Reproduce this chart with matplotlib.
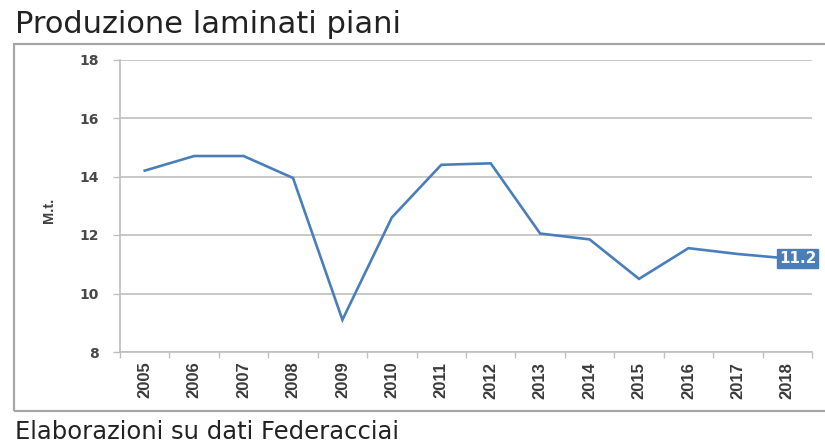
import matplotlib.pyplot as plt
from matplotlib.patches import Rectangle

# Dati (milioni di tonnellate)
anni = ["2005", "2006", "2007", "2008", "2009", "2010", "2011",
        "2012", "2013", "2014", "2015", "2016", "2017", "2018"]
produzione = [14.2, 14.7, 14.7, 13.95, 9.1, 12.6, 14.4,
              14.45, 12.05, 11.85, 10.5, 11.55, 11.35, 11.2]
y_ticks = [8, 10, 12, 14, 16, 18]
etichetta_finale = "11.2"

blu = "#4a7ebb"
grigio = "#bfbfbf"

plt.rcParams['font.family'] = ['Liberation Sans', 'DejaVu Sans']

fig = plt.figure(figsize=(8.25, 4.45), dpi=100)

# cornice attorno al grafico
fig.patches.append(Rectangle((14 / 825, 34 / 445), 1.0, 367 / 445,
                             transform=fig.transFigure, fill=False,
                             edgecolor="#a6a6a6", linewidth=1.6))

ax = fig.add_axes([120 / 825, 93 / 445, 692 / 825, 292.5 / 445])
x = range(len(anni))
ax.plot(x, produzione, color=blu, linewidth=1.9, solid_joinstyle="miter")

ax.set_xlim(-0.5, len(anni) - 0.5)
ax.set_ylim(8, 18)
ax.set_yticks(y_ticks)
ax.set_yticklabels([str(v) for v in y_ticks], fontsize=10, color="#484848",
                   fontweight="bold", family="DejaVu Sans")
ax.set_xticks(list(x))
ax.set_xticklabels(anni, rotation=90, fontsize=12, color="#3a3a3a",
                   fontweight="bold")
ax.tick_params(axis="x", length=0, pad=7)
ax.set_xticks([i - 0.5 for i in range(len(anni) + 1)], minor=True)
ax.tick_params(axis="x", which="minor", length=4, color=grigio, width=1)
ax.tick_params(axis="y", length=5, color=grigio, width=1, pad=10)

ax.grid(axis="y", color="#c8c8c8", linewidth=1.4)
ax.set_axisbelow(True)
for side in ["top", "right"]:
    ax.spines[side].set_visible(False)
ax.spines["left"].set_color(grigio)
ax.spines["bottom"].set_color(grigio)
ax.spines["left"].set_linewidth(1.2)
ax.spines["bottom"].set_linewidth(1.2)

ax.set_ylabel("M.t.", fontsize=10.5, color="#404040", fontweight="bold")
ax.yaxis.set_label_coords(-0.092, 0.485)

# etichetta ultimo valore
ax.annotate(etichetta_finale, xy=(len(anni) - 1, produzione[-1]),
            xytext=(-6, 0), textcoords="offset points", ha="left", va="center",
            fontsize=11, fontweight="bold", color="white", family="DejaVu Sans",
            bbox=dict(boxstyle="square,pad=0.12", facecolor=blu, edgecolor=blu),
            annotation_clip=False)

fig.text(15 / 825, 1 - 33 / 445, "Produzione laminati piani", family="DejaVu Sans",
         fontsize=22, color="#222222", ha="left", va="baseline")
fig.text(15 / 825, 1 - 439 / 445, "Elaborazioni su dati Federacciai",
         family="DejaVu Sans",
         fontsize=17.5, color="#222222", ha="left", va="baseline")

fig.savefig("out.png", dpi=100)
